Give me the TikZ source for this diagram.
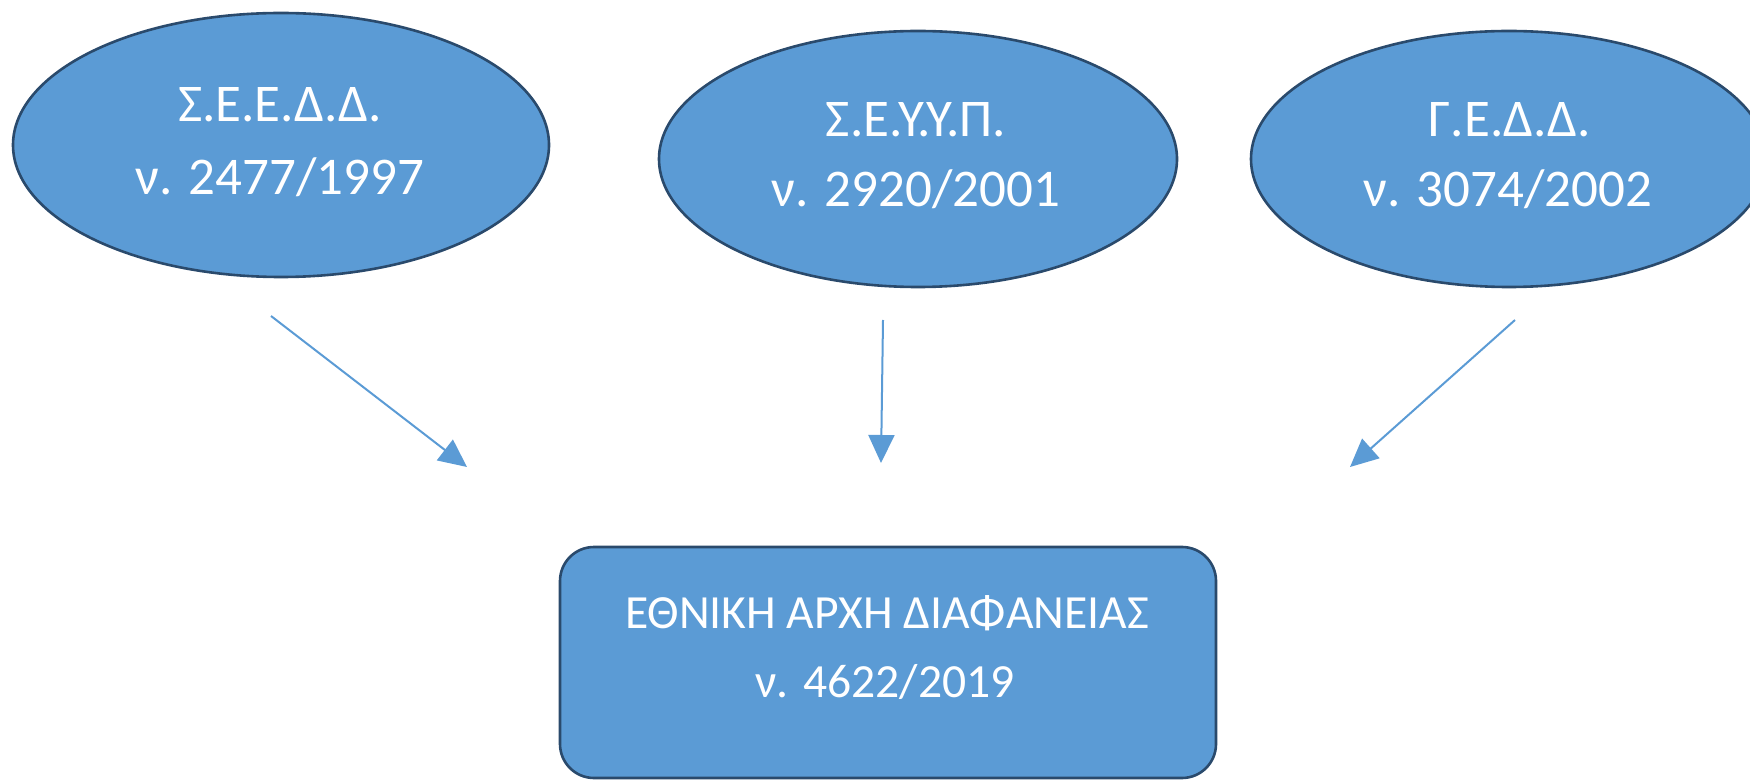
\documentclass[tikz,border=0pt]{standalone}
\usepackage{fontspec}
\setmainfont{Carlito}
\usetikzlibrary{shapes.geometric,arrows.meta}
\definecolor{offblue}{HTML}{5B9BD5}
\definecolor{edgeblue}{HTML}{2A4A6C}
\tikzset{
  oval/.style={ellipse, fill=offblue, draw=edgeblue, line width=1.3pt, inner sep=0pt},
  authbox/.style={rectangle, rounded corners=17pt, fill=offblue, draw=edgeblue, line width=1.3pt, inner sep=0pt},
  ovaltext/.style={anchor=base, text=white, inner sep=0pt, font=\fontsize{26.5pt}{32pt}\selectfont},
  boxtext/.style={anchor=base, text=white, inner sep=0pt, font=\fontsize{23.8pt}{30pt}\selectfont},
  link/.style={draw=offblue, line width=1pt, -{Triangle[length=14pt,width=13pt]}}
}
\begin{document}
\begin{tikzpicture}[x=0.5pt,y=-0.5pt]
\useasboundingbox (0,0) rectangle (1750,780);
% ovals
\node[oval, minimum width=268pt, minimum height=132pt] (seedd) at (281,145) {};
\node[oval, minimum width=259pt, minimum height=128pt] (seyyp) at (918,159) {};
\node[oval, minimum width=258pt, minimum height=128pt] (gedd) at (1509,159) {};
% box
\node[authbox, minimum width=328pt, minimum height=115.5pt] (ead) at (888,662.5) {};
% texts
\node[ovaltext] (t1a) at (280,122) {Σ.Ε.Ε.Δ.Δ.};
\node[ovaltext] (t1b) at (280,195) {ν. 2477/1997};
\node[ovaltext] (t2a) at (916,137) {Σ.Ε.Υ.Υ.Π.};
\node[ovaltext] (t2b) at (916,207) {ν. 2920/2001};
\node[ovaltext] (t3a) at (1510,137) {Γ.Ε.Δ.Δ.};
\node[ovaltext] (t3b) at (1508,207) {ν. 3074/2002};
\node[boxtext] (t4a) at (887,628) {ΕΘΝΙΚΗ ΑΡΧΗ ΔΙΑΦΑΝΕΙΑΣ};
\node[boxtext] (t4b) at (885,697) {ν. 4622/2019};
% arrows
\coordinate (a1s) at (271,316);
\coordinate (a1e) at (467,467);
\coordinate (a2s) at (883,320);
\coordinate (a2e) at (881,463);
\coordinate (a3s) at (1515,320);
\coordinate (a3e) at (1350,467);
\draw[link] (a1s) -- (a1e);
\draw[link] (a2s) -- (a2e);
\draw[link] (a3s) -- (a3e);
\end{tikzpicture}
\end{document}
